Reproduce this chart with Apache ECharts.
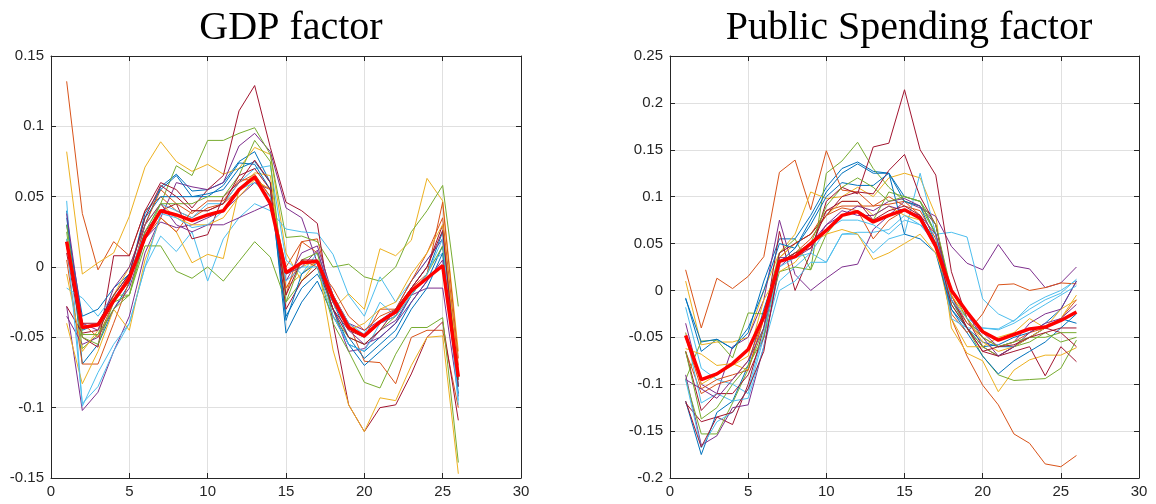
<!DOCTYPE html>
<html><head><meta charset="utf-8">
<script src="https://cdn.jsdelivr.net/npm/echarts@6/dist/echarts.min.js"></script>
<style>html,body{margin:0;padding:0;background:#fff}#c{width:1156px;height:504px}</style>
</head><body><div id="c"></div>
<script>
const xs = [1,2,3,4,5,6,7,8,9,10,11,12,13,14,15,16,17,18,19,20,21,22,23,24,25,26];
const xTicks = ['0','5','10','15','20','25','30'];
const gdpYTicks = ['-0.15','-0.1','-0.05','0','0.05','0.1','0.15'];
const psYTicks = ['-0.2','-0.15','-0.1','-0.05','0','0.05','0.1','0.15','0.2','0.25'];
const lineColors = ['#0072BD','#D95319','#EDB120','#7E2F8E','#77AC30','#4DBEEE','#A2142F'];

// GDP factor panel
const gdpB1 = [0.040,-0.069,-0.055,-0.030,-0.012,0.030,0.057,0.066,0.054,0.055,0.060,0.075,0.082,0.060,-0.047,-0.025,-0.010,-0.035,-0.055,-0.060,-0.050,-0.040,-0.020,-0.005,0.025,-0.085];
const gdpO1 = [0.132,0.038,-0.002,0.018,0.008,0.040,0.050,0.040,0.035,0.042,0.045,0.060,0.066,0.050,0.000,0.018,0.020,-0.025,-0.040,-0.067,-0.068,-0.083,-0.050,-0.045,-0.045,-0.100];
const gdpY1 = [0.082,-0.005,0.003,0.010,0.036,0.071,0.089,0.075,0.068,0.073,0.066,0.070,0.085,0.080,0.010,-0.010,0.005,-0.030,-0.019,-0.030,0.013,0.008,0.019,0.063,0.047,-0.060];
const gdpP1 = [-0.028,-0.102,-0.089,-0.060,-0.035,0.010,0.035,0.060,0.057,0.055,0.060,0.086,0.095,0.082,0.042,0.035,0.003,-0.030,-0.060,-0.058,-0.045,-0.038,-0.020,-0.015,-0.015,-0.092];
const gdpG1 = [0.025,-0.058,-0.048,-0.020,-0.020,0.020,0.045,0.072,0.065,0.090,0.090,0.095,0.099,0.080,0.021,0.022,0.018,0.000,0.002,-0.007,-0.010,0.000,0.025,0.040,0.058,-0.028];
const gdpC1 = [0.047,-0.099,-0.075,-0.055,-0.040,0.000,0.022,0.011,0.025,-0.010,0.020,0.035,0.045,0.040,0.027,0.025,0.024,0.009,-0.020,-0.035,-0.007,-0.025,-0.010,0.005,0.020,-0.098];
const gdpR1 = [0.010,-0.050,-0.057,0.008,0.008,0.040,0.060,0.055,0.042,0.055,0.065,0.111,0.129,0.085,0.046,0.040,0.031,-0.040,-0.098,-0.117,-0.100,-0.098,-0.076,-0.050,-0.039,-0.109];
const gdpB2 = [0.035,-0.045,-0.040,-0.020,-0.005,0.035,0.050,0.050,0.050,0.052,0.055,0.070,0.075,0.060,-0.035,-0.015,-0.005,-0.025,-0.050,-0.065,-0.055,-0.045,-0.025,-0.010,0.015,-0.080];
const gdpO2 = [0.005,-0.069,-0.069,-0.040,-0.010,0.030,0.055,0.045,0.038,0.047,0.047,0.062,0.062,0.055,-0.020,0.018,0.010,-0.020,-0.040,-0.050,-0.030,-0.030,-0.015,-0.005,0.046,-0.065];
const gdpY2 = [-0.040,-0.083,-0.060,-0.030,-0.045,0.005,0.035,0.025,0.003,0.009,0.006,0.055,0.067,0.065,-0.015,-0.005,0.005,-0.059,-0.098,-0.117,-0.093,-0.095,-0.070,-0.050,-0.049,-0.147];
const gdpP2 = [-0.035,-0.055,-0.050,-0.030,-0.015,0.020,0.032,0.028,0.030,0.035,0.040,0.050,0.060,0.055,-0.010,0.010,0.015,-0.020,-0.040,-0.045,-0.038,-0.030,-0.010,0.005,0.020,-0.080];
const gdpG2 = [0.020,-0.050,-0.055,-0.025,-0.020,0.015,0.015,-0.003,-0.008,0.000,-0.010,0.004,0.018,0.007,-0.025,-0.010,0.000,-0.040,-0.060,-0.082,-0.086,-0.062,-0.043,-0.043,-0.036,-0.139];
const gdpC2 = [-0.015,-0.022,-0.035,-0.020,-0.005,0.025,0.045,0.040,0.035,0.045,0.045,0.060,0.070,0.072,0.005,-0.005,0.010,-0.020,-0.040,-0.048,-0.025,-0.035,-0.015,0.000,0.010,-0.085];
const gdpR2 = [-0.028,-0.047,-0.045,-0.025,-0.010,0.025,0.040,0.045,0.020,0.023,0.050,0.060,0.076,0.060,-0.030,-0.010,0.000,-0.030,-0.045,-0.050,-0.040,-0.035,-0.015,0.000,0.030,-0.075];
const gdpB3 = [0.030,-0.035,-0.030,-0.015,-0.005,0.038,0.055,0.065,0.050,0.050,0.058,0.074,0.073,0.055,-0.038,-0.005,0.003,-0.030,-0.055,-0.070,-0.060,-0.050,-0.030,-0.015,0.010,-0.090];
const gdpO3 = [0.015,-0.040,-0.050,-0.025,-0.005,0.020,0.035,0.025,0.040,0.040,0.045,0.055,0.065,0.050,-0.015,0.005,0.000,-0.015,-0.035,-0.045,-0.035,-0.030,-0.010,0.010,0.035,-0.070];
const gdpY3 = [-0.005,-0.060,-0.045,-0.020,0.000,0.030,0.045,0.035,0.030,0.030,0.035,0.050,0.062,0.055,-0.005,0.000,0.005,-0.025,-0.045,-0.040,-0.030,-0.025,-0.005,0.010,0.030,-0.075];
const gdpP3 = [0.038,-0.040,-0.045,-0.015,0.000,0.030,0.045,0.030,0.025,0.030,0.030,0.035,0.040,0.045,-0.005,0.000,0.012,-0.025,-0.045,-0.055,-0.050,-0.040,-0.025,-0.010,0.005,-0.080];
const gdpG3 = [0.030,-0.048,-0.048,-0.030,-0.020,0.025,0.045,0.045,0.045,0.050,0.050,0.065,0.090,0.075,-0.025,0.005,0.010,-0.035,-0.050,-0.055,-0.045,-0.035,-0.020,-0.005,0.015,-0.080];
const gdpC3 = [0.020,-0.097,-0.085,-0.060,-0.040,0.000,0.038,0.035,0.028,0.030,0.040,0.055,0.060,0.050,-0.010,0.000,0.000,-0.035,-0.055,-0.060,-0.040,-0.035,-0.020,-0.005,0.020,-0.095];
const gdpR3 = [0.015,-0.040,-0.040,-0.020,-0.005,0.035,0.058,0.050,0.040,0.040,0.045,0.065,0.070,0.055,-0.020,0.005,0.005,-0.030,-0.050,-0.055,-0.045,-0.030,-0.015,0.000,0.026,-0.085];
const gdpMean = [0.018,-0.043,-0.041,-0.024,-0.008,0.021,0.040,0.037,0.033,0.037,0.040,0.055,0.064,0.045,-0.004,0.003,0.004,-0.022,-0.043,-0.049,-0.039,-0.032,-0.017,-0.008,0.001,-0.078];

// Public Spending factor panel
const psB1 = [-0.008,-0.065,-0.052,-0.062,-0.045,0.010,0.055,0.055,0.080,0.110,0.130,0.137,0.127,0.125,0.100,0.095,0.060,-0.010,-0.040,-0.060,-0.058,-0.050,-0.045,-0.035,-0.020,0.010];
const psO1 = [0.022,-0.040,0.013,0.002,0.015,0.036,0.126,0.139,0.086,0.149,0.107,0.105,0.090,0.092,0.095,0.080,0.050,-0.030,-0.070,-0.101,-0.122,-0.153,-0.163,-0.185,-0.188,-0.176];
const psY1 = [0.010,-0.058,-0.055,-0.055,-0.050,0.000,0.040,0.060,0.105,0.098,0.100,0.110,0.100,0.120,0.125,0.120,0.080,-0.040,-0.067,-0.075,-0.108,-0.085,-0.074,-0.069,-0.069,-0.061];
const psP1 = [-0.035,-0.100,-0.110,-0.060,-0.050,-0.010,0.075,0.017,0.000,0.013,0.025,0.028,0.065,0.080,0.095,0.088,0.079,0.047,0.029,0.022,0.049,0.026,0.023,0.003,0.008,0.025];
const psG1 = [-0.095,-0.054,-0.053,-0.072,-0.024,-0.025,0.040,0.055,0.022,0.125,0.138,0.158,0.130,0.110,0.095,0.090,0.060,-0.010,-0.040,-0.070,-0.090,-0.096,-0.095,-0.094,-0.083,-0.053];
const psC1 = [-0.018,-0.083,-0.095,-0.100,-0.110,-0.050,0.010,0.025,0.040,0.030,0.060,0.060,0.040,0.055,0.060,0.125,0.060,0.062,0.057,-0.009,-0.025,-0.033,-0.016,-0.007,0.000,0.011];
const psR1 = [-0.120,-0.140,-0.135,-0.143,-0.100,-0.040,0.063,0.000,0.040,0.095,0.110,0.103,0.153,0.157,0.214,0.150,0.123,0.020,-0.030,-0.060,-0.070,-0.065,-0.060,-0.091,-0.060,-0.076];
const psB2 = [-0.118,-0.175,-0.130,-0.118,-0.080,-0.020,0.030,0.045,0.075,0.105,0.125,0.135,0.125,0.125,0.095,0.090,0.050,-0.020,-0.045,-0.070,-0.089,-0.075,-0.065,-0.055,-0.040,-0.025];
const psO2 = [-0.065,-0.110,-0.100,-0.095,-0.075,-0.030,0.035,0.050,0.060,0.085,0.090,0.090,0.090,0.100,0.090,0.085,0.055,-0.025,-0.045,-0.025,0.006,0.007,0.000,0.003,0.008,0.007];
const psY2 = [-0.062,-0.068,-0.080,-0.078,-0.085,-0.030,0.035,0.050,0.060,0.080,0.095,0.095,0.080,0.090,0.080,0.075,0.045,-0.030,-0.060,-0.060,-0.050,-0.045,-0.030,-0.040,-0.020,-0.010];
const psP2 = [-0.090,-0.165,-0.155,-0.125,-0.122,-0.060,0.025,0.040,0.050,0.070,0.080,0.090,0.085,0.095,0.098,0.090,0.070,-0.010,-0.035,-0.045,-0.060,-0.055,-0.035,-0.025,-0.020,0.010];
const psG2 = [-0.095,-0.153,-0.153,-0.120,-0.084,-0.040,0.020,0.025,0.022,0.060,0.080,0.085,0.075,0.105,0.100,0.095,0.060,-0.015,-0.040,-0.060,-0.070,-0.060,-0.055,-0.045,-0.055,-0.050];
const psC2 = [-0.045,-0.120,-0.110,-0.118,-0.115,-0.060,0.000,0.010,0.030,0.030,0.060,0.062,0.062,0.065,0.080,0.070,0.060,-0.030,-0.040,-0.040,-0.041,-0.032,-0.020,-0.010,-0.003,0.012];
const psR2 = [-0.065,-0.128,-0.110,-0.110,-0.090,-0.050,0.040,0.050,0.060,0.080,0.100,0.105,0.103,0.128,0.145,0.100,0.070,-0.005,-0.040,-0.065,-0.070,-0.060,-0.050,-0.040,-0.045,-0.060];
const psB3 = [-0.009,-0.055,-0.052,-0.062,-0.040,0.000,0.050,0.045,0.070,0.100,0.115,0.112,0.112,0.125,0.060,0.055,0.040,-0.020,-0.040,-0.055,-0.060,-0.060,-0.050,-0.040,-0.030,-0.035];
const psO3 = [-0.050,-0.105,-0.095,-0.090,-0.085,-0.030,0.030,0.040,0.055,0.080,0.088,0.085,0.055,0.075,0.085,0.078,0.050,-0.005,-0.035,-0.050,-0.060,-0.055,-0.045,-0.040,-0.030,-0.010];
const psY3 = [-0.045,-0.100,-0.090,-0.080,-0.070,-0.010,0.020,0.030,0.050,0.060,0.065,0.060,0.033,0.040,0.050,0.060,0.040,-0.005,-0.030,-0.055,-0.065,-0.060,-0.050,-0.040,-0.030,-0.005];
const psP3 = [-0.095,-0.105,-0.115,-0.095,-0.075,-0.040,0.035,0.035,0.045,0.070,0.085,0.080,0.080,0.090,0.085,0.080,0.060,0.000,-0.025,-0.050,-0.070,-0.060,-0.045,-0.035,-0.030,-0.015];
const psG3 = [-0.065,-0.137,-0.125,-0.100,-0.080,-0.050,0.030,0.040,0.050,0.090,0.110,0.120,0.110,0.095,0.100,0.095,0.070,0.000,-0.030,-0.050,-0.060,-0.055,-0.050,-0.050,-0.045,-0.045];
const psC3 = [-0.095,-0.168,-0.140,-0.130,-0.105,-0.045,0.025,0.035,0.040,0.065,0.075,0.075,0.070,0.060,0.075,0.070,0.050,-0.010,-0.030,-0.040,-0.042,-0.035,-0.025,-0.015,-0.005,0.005];
const psR3 = [-0.118,-0.167,-0.135,-0.130,-0.105,-0.065,0.030,0.040,0.045,0.085,0.095,0.095,0.075,0.085,0.090,0.080,0.050,-0.015,-0.040,-0.065,-0.060,-0.058,-0.050,-0.045,-0.040,-0.040];
const psMean = [-0.048,-0.095,-0.089,-0.078,-0.063,-0.028,0.031,0.036,0.050,0.064,0.080,0.084,0.073,0.080,0.086,0.077,0.047,0.000,-0.023,-0.044,-0.053,-0.047,-0.041,-0.039,-0.032,-0.023];

const gdpLines = [gdpB1,gdpO1,gdpY1,gdpP1,gdpG1,gdpC1,gdpR1,gdpB2,gdpO2,gdpY2,gdpP2,gdpG2,gdpC2,gdpR2,gdpB3,gdpO3,gdpY3,gdpP3,gdpG3,gdpC3,gdpR3];
const psLines = [psB1,psO1,psY1,psP1,psG1,psC1,psR1,psB2,psO2,psY2,psP2,psG2,psC2,psR2,psB3,psO3,psY3,psP3,psG3,psC3,psR3];

const tickColor = '#262626';
const gridColor = '#e0e0e0';
const labelFont = {fontFamily:'Liberation Sans, Arial, sans-serif', fontSize:15, color:tickColor};

function fmt(labels){ return function(v){ const s = labels.find(l => Math.abs(parseFloat(l)-v) < 1e-9); return s === undefined ? '' : s; }; }

function xAxes(gi){
  return [
    {type:'value', gridIndex:gi, position:'bottom', min:0, max:30, interval:5,
     axisLine:{show:true, onZero:false, lineStyle:{color:tickColor, width:1}},
     axisTick:{show:true, inside:true, length:5, lineStyle:{color:tickColor}},
     axisLabel:Object.assign({margin:6, formatter:fmt(xTicks)}, labelFont),
     splitLine:{show:true, lineStyle:{color:gridColor, width:1}}},
    {type:'value', gridIndex:gi, position:'top', min:0, max:30, interval:5,
     axisLine:{show:true, onZero:false, lineStyle:{color:tickColor, width:1}},
     axisTick:{show:true, inside:true, length:5, lineStyle:{color:tickColor}},
     axisLabel:{show:false}, splitLine:{show:false}}
  ];
}
function yAxes(gi, mn, mx, labels){
  return [
    {type:'value', gridIndex:gi, position:'left', min:mn, max:mx, interval:0.05,
     axisLine:{show:true, onZero:false, lineStyle:{color:tickColor, width:1}},
     axisTick:{show:true, inside:true, length:5, lineStyle:{color:tickColor}},
     axisLabel:Object.assign({margin:7, formatter:fmt(labels)}, labelFont),
     splitLine:{show:true, lineStyle:{color:gridColor, width:1}}},
    {type:'value', gridIndex:gi, position:'right', min:mn, max:mx, interval:0.05,
     axisLine:{show:true, onZero:false, lineStyle:{color:tickColor, width:1}},
     axisTick:{show:true, inside:true, length:5, lineStyle:{color:tickColor}},
     axisLabel:{show:false}, splitLine:{show:false}}
  ];
}

const series = [];
function addPanel(lines, mean, xi, yi){
  lines.forEach((arr, i) => {
    series.push({type:'line', xAxisIndex:xi, yAxisIndex:yi, symbol:'none', silent:true,
      data: xs.map((x,k) => [x, arr[k]]),
      lineStyle:{color:lineColors[i % lineColors.length], width:1}});
  });
  series.push({type:'line', xAxisIndex:xi, yAxisIndex:yi, symbol:'none', silent:true, z:5,
    data: xs.map((x,k) => [x, mean[k]]),
    lineStyle:{color:'#FF0000', width:3.5}});
}
addPanel(gdpLines, gdpMean, 0, 0);
addPanel(psLines, psMean, 2, 2);

const titleStyle = {fontFamily:'Liberation Serif, Times New Roman, serif', fontSize:40, fontWeight:'normal', color:'#000'};
const option = {
  animation:false,
  backgroundColor:'#fff',
  title:[
    {text:'GDP factor', left:286, top:3, textAlign:'center', textStyle:titleStyle},
    {text:'Public Spending factor', left:904, top:3, textAlign:'center', textStyle:titleStyle}
  ],
  grid:[
    {left:51, top:56, width:470, height:422},
    {left:670, top:56, width:469, height:422}
  ],
  xAxis: xAxes(0).concat(xAxes(1)),
  yAxis: yAxes(0, -0.15, 0.15, gdpYTicks).concat(yAxes(1, -0.2, 0.25, psYTicks)),
  series: series
};
const chart = echarts.init(document.getElementById('c'), null, {renderer:'canvas'});
chart.setOption(option);
</script>
</body></html>
